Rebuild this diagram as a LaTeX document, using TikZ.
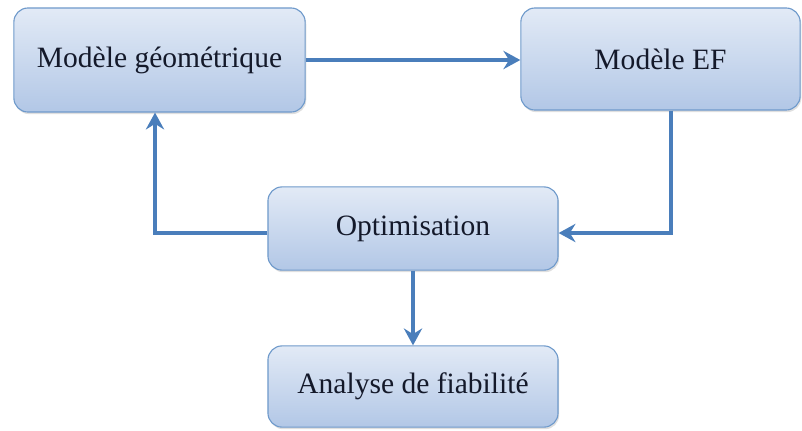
\documentclass[tikz,border=0pt]{standalone}
\usepackage{fontspec}
\setmainfont{Liberation Serif}
\usetikzlibrary{calc}
\usetikzlibrary{shapes,arrows.meta,shadows}
\definecolor{boxtop}{HTML}{E2EAF6}
\definecolor{boxbot}{HTML}{B2C7E6}
\definecolor{boxline}{HTML}{6F9ACB}
\definecolor{flow}{HTML}{4A7EBB}
\definecolor{ink}{HTML}{14192A}

\begin{document}
\begin{tikzpicture}[x=0.025cm,y=-0.025cm]
     \tikzstyle{every node}=[font=\fontsize{21}{25}\selectfont, text=ink]
     \tikzstyle{bloc}=[draw=boxline, line width=0.8pt, rounded corners=10pt,
        top color=boxtop, bottom color=boxbot, inner sep=0pt,
        drop shadow={opacity=0.25, shadow xshift=0.8pt, shadow yshift=-1.5pt}]
     \tikzstyle{fleche}=[flow, line width=2.8pt, -{Stealth[length=12pt,width=13pt,inset=4pt]}]
      \useasboundingbox (0,0) rectangle (802,430);
      \coordinate (GeoC) at (159.5,60);
      \coordinate (EfC)  at (660.5,59);
      \coordinate (OptC) at (413,228.5);
      \coordinate (AnaC) at (413,386.5);
      \coordinate (EfDrop)  at (671,233);
      \coordinate (GeoRise) at (155,233);
      \node[bloc, minimum width=7.28cm, minimum height=2.6cm]  (Geo) at (GeoC) {Modèle géométrique};
      \node[bloc, minimum width=6.98cm, minimum height=2.55cm] (Ef)  at (EfC)  {Modèle EF};
      \node[bloc, minimum width=7.25cm, minimum height=2.08cm] (Opt) at (OptC) {Optimisation};
      \node[bloc, minimum width=7.25cm, minimum height=2.03cm] (Ana) at (AnaC) {Analyse de fiabilité};
      \draw [fleche] (Geo.east) -- (Geo.east -| Ef.west);
      \draw [fleche] (Ef.south -| EfDrop) -- (EfDrop) -- (Opt.east |- EfDrop);
      \draw [fleche] (Opt.west |- GeoRise) -- (GeoRise) -- (GeoRise |- Geo.south);
      \draw [fleche] (Opt.south) -- (Ana.north);
    \end{tikzpicture}
\end{document}
